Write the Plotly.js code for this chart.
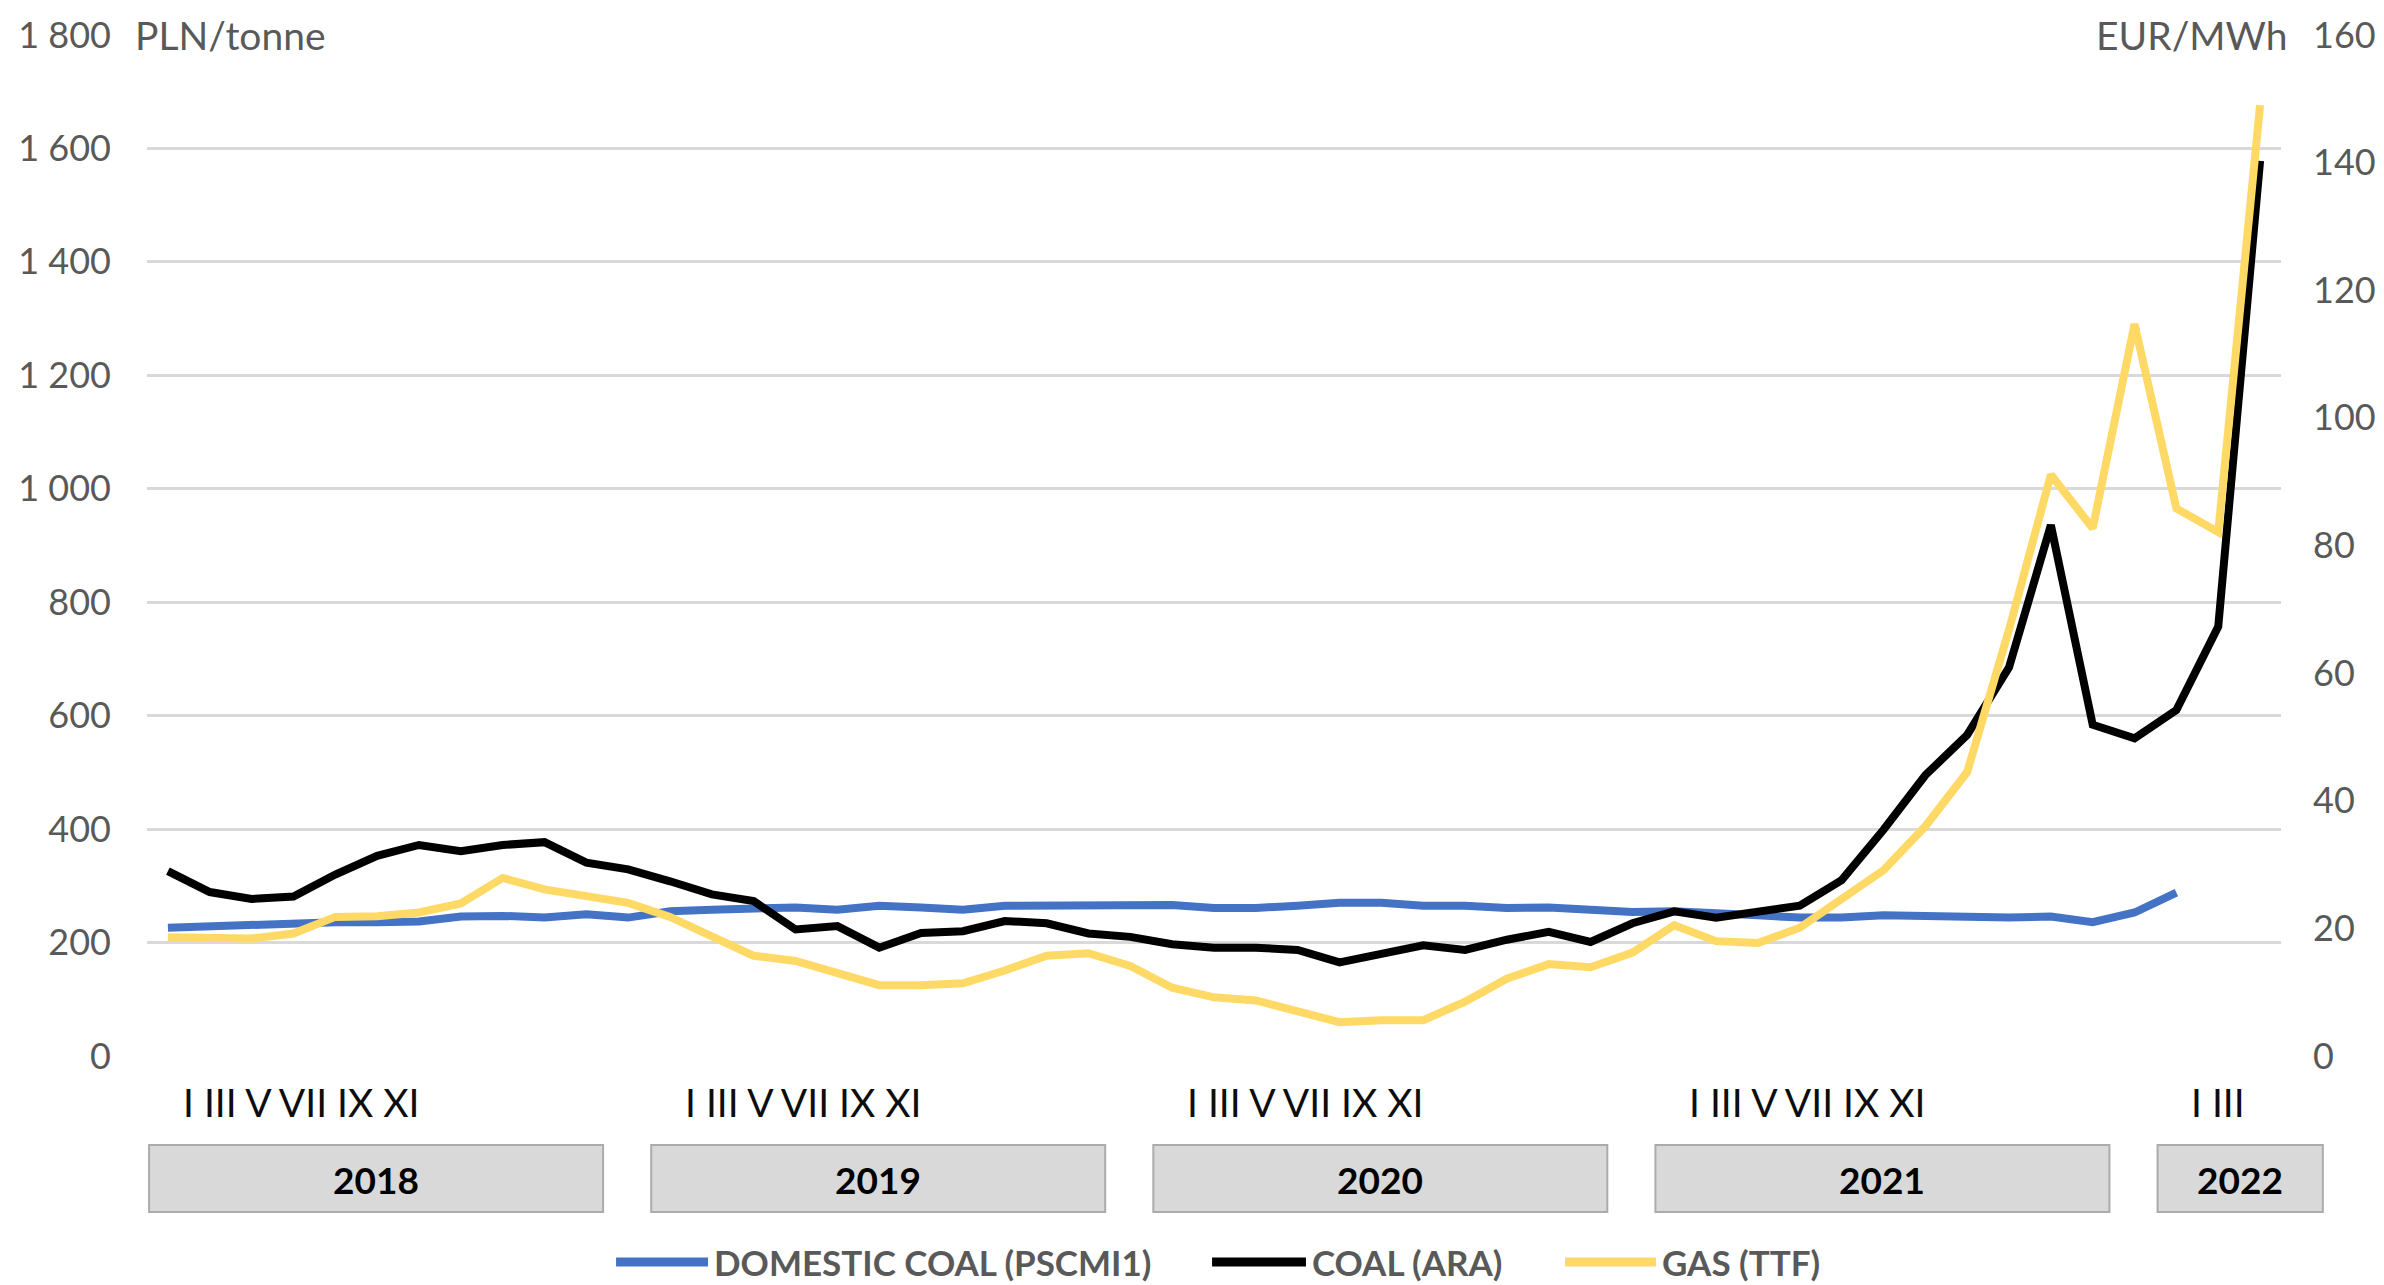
<!DOCTYPE html>
<html>
<head>
<meta charset="utf-8">
<script src="https://cdn.plot.ly/plotly-3.0.1.min.js"></script>
<style>
html,body{margin:0;padding:0;background:#fff;}
#chart{width:2384px;height:1285px;}
</style>
</head>
<body>
<div id="chart"></div>
<script>
// ---- data ----
const months = [
 '2018-01','2018-02','2018-03','2018-04','2018-05','2018-06','2018-07','2018-08','2018-09','2018-10','2018-11','2018-12',
 '2019-01','2019-02','2019-03','2019-04','2019-05','2019-06','2019-07','2019-08','2019-09','2019-10','2019-11','2019-12',
 '2020-01','2020-02','2020-03','2020-04','2020-05','2020-06','2020-07','2020-08','2020-09','2020-10','2020-11','2020-12',
 '2021-01','2021-02','2021-03','2021-04','2021-05','2021-06','2021-07','2021-08','2021-09','2021-10','2021-11','2021-12',
 '2022-01','2022-02','2022-03'
];
// PLN/tonne
const domesticCoal = [
 226,229,230,236,236,236,237,246,247,244,250,244,
 255,258,261,262,258,265,262,258,265,265,265,267,
 266,261,261,265,270,270,265,265,261,262,258,254,
 255,250,248,244,244,248,246,246,244,246,236,253,
 288,null,null
];
// PLN/tonne
const coalARA = [
 326,289,277,281,320,353,372,361,372,377,341,329,
 308,285,273,223,229,191,217,220,238,234,216,210,
 197,191,191,187,165,181,195,187,205,219,201,234,
 255,244,256,265,310,399,495,566,685,936,584,560,
 610,757,1578
];
// EUR/MWh
const gasTTF = [
 18.6,18.4,18.4,19.2,21.8,21.9,22.5,23.9,27.9,26.1,25.0,24.0,
 21.8,18.8,15.7,14.9,13.1,11.1,11.1,11.4,13.4,15.7,16.1,14.1,
 10.7,9.2,8.7,6.9,5.3,5.6,5.6,8.5,12.1,14.4,13.9,16.2,
 20.5,18.0,17.7,20.1,24.6,29.1,36.0,44.5,66.8,91.1,82.7,114.7,
 85.8,82.1,149
];
const years = ['2018','2019','2020','2021','2022'];
const monthTickText = ['I III V VII IX XI','I III V VII IX XI','I III V VII IX XI','I III V VII IX XI','I III'];
const seriesNames = ['DOMESTIC COAL (PSCMI1)','COAL (ARA)','GAS (TTF)'];
const seriesColors = ['#4472c4','#000000','#ffd966'];

// ---- layout helpers ----
const FONT = "Lato, 'Liberation Sans', Arial, sans-serif";
const n = months.length;
const toPaper = idx => (idx + 0.5) / n;

const traces = [
 {x: months, y: domesticCoal, name: seriesNames[0], type:'scatter', mode:'lines',
  line:{color:seriesColors[0], width:8}, connectgaps:false, yaxis:'y'},
 {x: months, y: coalARA, name: seriesNames[1], type:'scatter', mode:'lines',
  line:{color:seriesColors[1], width:8}, yaxis:'y'},
 {x: months, y: gasTTF, name: seriesNames[2], type:'scatter', mode:'lines',
  line:{color:seriesColors[2], width:8}, yaxis:'y2'}
];

const shapes = [];
const annotations = [];

years.forEach((yr, k) => {
  const start = months.findIndex(m => m.startsWith(yr));
  const count = months.filter(m => m.startsWith(yr)).length;
  const x0 = start - 0.45;
  const x1 = count === 12 ? start + 10.4 : start + 3.5;
  shapes.push({type:'rect', xref:'paper', yref:'paper',
    x0: toPaper(x0), x1: toPaper(x1), y0: -0.1528, y1: -0.0872,
    fillcolor:'#d9d9d9', line:{color:'#ababab', width:2}, layer:'above'});
  annotations.push({xref:'paper', yref:'paper', x: toPaper((x0 + x1) / 2), y: -0.1214,
    text: yr, showarrow:false, xanchor:'center', yanchor:'middle',
    font:{family:FONT, size:37, color:'#000000', weight:'bold'}});
  annotations.push({xref:'paper', yref:'paper', x: toPaper(start + 0.31), y: -0.045,
    text: monthTickText[k], showarrow:false, xanchor:'left', yanchor:'middle',
    font:{family:FONT, size:39, color:'#0d0d0d'}});
});

// unit labels
annotations.push({xref:'paper', yref:'paper', x:0, xshift:-21, y:1, text:'PLN/tonne',
  showarrow:false, xanchor:'left', yanchor:'middle', bgcolor:'#ffffff', borderpad:8,
  font:{family:FONT, size:39, color:'#595959'}});
annotations.push({xref:'paper', yref:'paper', x:1, xshift:15, y:1, text:'EUR/MWh',
  showarrow:false, xanchor:'right', yanchor:'middle', bgcolor:'#ffffff', borderpad:8,
  font:{family:FONT, size:39, color:'#595959'}});

// custom legend
const legendLineX = [[0.2198,0.2629],[0.4991,0.5431],[0.6645,0.7071]];
const legendY = -0.2018;
seriesNames.forEach((nm, k) => {
  shapes.push({type:'line', xref:'paper', yref:'paper',
    x0: legendLineX[k][0], x1: legendLineX[k][1], y0: legendY, y1: legendY,
    line:{color: seriesColors[k], width:9}});
  annotations.push({xref:'paper', yref:'paper', x: legendLineX[k][1] + 0.002, y: legendY,
    text: nm, showarrow:false, xanchor:'left', yanchor:'middle',
    font:{family:FONT, size:35, color:'#595959', weight:'bold'}});
});

const layout = {
  width: 2384, height: 1285,
  margin: {l:147, r:103, t:35, b:229, pad:0},
  paper_bgcolor:'#ffffff', plot_bgcolor:'#ffffff',
  separators: ', ',
  showlegend: false,
  font: {family: FONT, color:'#595959'},
  xaxis: {type:'category', range:[-0.5, n - 0.5], showticklabels:false, showgrid:false,
    zeroline:false, showline:false, ticks:'', fixedrange:true},
  yaxis: {range:[0,1800], tick0:0, dtick:200, showgrid:true, gridcolor:'#d9d9d9', gridwidth:3,
    zeroline:false, showline:false, ticks:'', ticklabelstandoff:35, separatethousands:true,
    tickfont:{family:FONT, size:36, color:'#595959'}},
  yaxis2: {range:[0,160], tick0:0, dtick:20, overlaying:'y', side:'right', showgrid:false,
    zeroline:false, showline:false, ticks:'', ticklabelstandoff:31,
    tickfont:{family:FONT, size:36, color:'#595959'}},
  shapes: shapes,
  annotations: annotations
};

Plotly.newPlot('chart', traces, layout, {staticPlot:true, displayModeBar:false});
</script>
</body>
</html>
